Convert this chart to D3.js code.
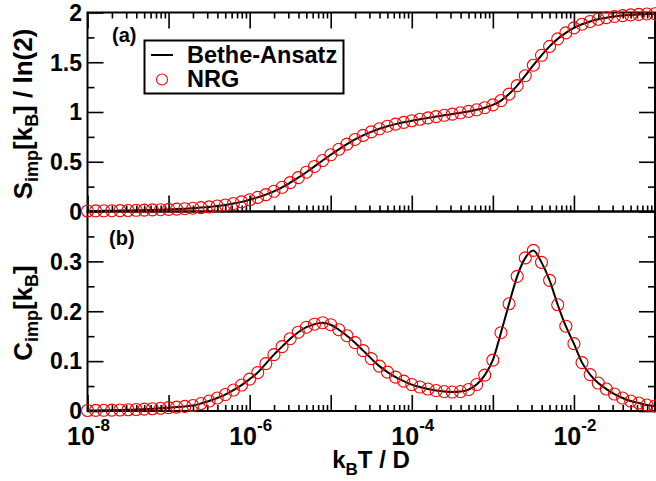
<!DOCTYPE html>
<html>
<head>
<meta charset="utf-8">
<script src="https://cdn.jsdelivr.net/npm/d3@7"></script>
<style>
  html, body { margin: 0; padding: 0; background: #fff; }
  svg { display: block; }
  text { font-family: "Liberation Sans", Arial, Helvetica, sans-serif; font-weight: bold; fill: #000; }
</style>
</head>
<body>
<svg id="chart" width="656" height="481"></svg>
<script>
// ---- data ----
const logT = [
  -8.0,-7.9,-7.8,-7.7,-7.6,-7.5,-7.4,-7.3,-7.2,-7.1,
  -7.0,-6.9,-6.8,-6.7,-6.6,-6.5,-6.4,-6.3,-6.2,-6.1,
  -6.0,-5.9,-5.8,-5.7,-5.6,-5.5,-5.4,-5.3,-5.2,-5.1,
  -5.0,-4.9,-4.8,-4.7,-4.6,-4.5,-4.4,-4.3,-4.2,-4.1,
  -4.0,-3.9,-3.8,-3.7,-3.6,-3.5,-3.4,-3.3,-3.2,-3.1,
  -3.0,-2.9,-2.8,-2.7,-2.6,-2.5,-2.4,-2.3,-2.2,-2.1,
  -2.0,-1.9,-1.8,-1.7,-1.6,-1.5,-1.4,-1.3,-1.2,-1.1,
  -1.0
];
const entropy = [
  0.005,0.006,0.007,0.008,0.009,0.010,0.012,0.014,0.016,0.018,
  0.021,0.024,0.028,0.033,0.039,0.046,0.055,0.066,0.080,0.097,
  0.118,0.142,0.170,0.203,0.243,0.290,0.340,0.395,0.453,0.512,
  0.570,0.625,0.677,0.724,0.765,0.800,0.831,0.857,0.878,0.896,
  0.912,0.927,0.941,0.954,0.967,0.979,0.992,1.006,1.022,1.043,
  1.072,1.115,1.180,1.265,1.365,1.470,1.570,1.660,1.735,1.795,
  1.845,1.882,1.910,1.932,1.948,1.960,1.969,1.976,1.981,1.985,
  1.988
];
const heat = [
  0.001,0.0012,0.0014,0.0017,0.002,0.0025,0.003,0.0037,0.0045,0.0055,
  0.0067,0.0078,0.0092,0.011,0.015,0.020,0.026,0.033,0.042,0.052,
  0.064,0.077,0.095,0.113,0.129,0.145,0.158,0.168,0.174,0.177,
  0.173,0.163,0.151,0.137,0.121,0.105,0.090,0.078,0.068,0.060,
  0.053,0.048,0.044,0.041,0.039,0.038,0.039,0.043,0.053,0.072,
  0.102,0.157,0.215,0.270,0.307,0.322,0.298,0.262,0.213,0.170,
  0.135,0.097,0.073,0.056,0.044,0.034,0.026,0.020,0.016,0.012,
  0.010
];
const xLabelExponents = [-8, -6, -4, -2];
const sTicks = [0, 0.5, 1, 1.5, 2];
const sTickLabels = ["0", "0.5", "1", "1.5", "2"];
const sMinor = [0.25, 0.75, 1.25, 1.75];
const cTicks = [0, 0.1, 0.2, 0.3];
const cTickLabels = ["0", "0.1", "0.2", "0.3"];
const cMinor = [0.05, 0.15, 0.25, 0.35];
const legendLabels = ["Bethe-Ansatz", "NRG"];
const panelLabels = ["(a)", "(b)"];

// ---- layout ----
const xL = 87.5, xR = 655, yT = 12.5, yM = 211.5, yB = 411;
const svg = d3.select("#chart");

const x = d3.scaleLog().domain([1e-8, 1e-1]).range([xL, xR]);
const yS = d3.scaleLinear().domain([0, 2]).range([yM, yT]);
const yC = d3.scaleLinear().domain([0, 0.4]).range([yB, yM]);

const temps = logT.map(u => Math.pow(10, u));
const majorX = d3.range(-8, 0).map(e => Math.pow(10, e));
const minorX = [];
majorX.forEach(m => { for (let k = 2; k <= 9; k++) if (m * k < 1e-1) minorX.push(m * k); });

function xTickAxis(gen, y, values, size) {
  const g = svg.append("g").attr("transform", `translate(0,${y})`)
    .call(gen(x).tickValues(values).tickSizeInner(-size).tickSizeOuter(0).tickFormat(""));
  g.select(".domain").remove();
  g.selectAll("line").attr("stroke", "#000").attr("stroke-width", 1.6);
}
function yTickAxis(gen, xpos, scale, values, size) {
  const g = svg.append("g").attr("transform", `translate(${xpos},0)`)
    .call(gen(scale).tickValues(values).tickSizeInner(-size).tickSizeOuter(0).tickFormat(""));
  g.select(".domain").remove();
  g.selectAll("line").attr("stroke", "#000").attr("stroke-width", 1.6);
}

// top panel x ticks (top edge down, bottom edge up)
xTickAxis(d3.axisTop, yT, majorX, 16);
xTickAxis(d3.axisTop, yT, minorX, 6);
xTickAxis(d3.axisBottom, yM, majorX, 16);
xTickAxis(d3.axisBottom, yM, minorX, 6);
// bottom panel x ticks
xTickAxis(d3.axisBottom, yB, majorX, 16);
xTickAxis(d3.axisBottom, yB, minorX, 6);

// y ticks both sides
yTickAxis(d3.axisLeft, xL, yS, sTicks, 16);
yTickAxis(d3.axisLeft, xL, yS, sMinor, 7);
yTickAxis(d3.axisRight, xR, yS, sTicks, 16);
yTickAxis(d3.axisRight, xR, yS, sMinor, 7);
yTickAxis(d3.axisLeft, xL, yC, cTicks, 16);
yTickAxis(d3.axisLeft, xL, yC, cMinor, 7);
yTickAxis(d3.axisRight, xR, yC, cTicks, 16);
yTickAxis(d3.axisRight, xR, yC, cMinor, 7);

// frames
svg.append("rect").attr("x", xL).attr("y", yT).attr("width", xR - xL).attr("height", yM - yT)
  .attr("fill", "none").attr("stroke", "#000").attr("stroke-width", 2);
svg.append("rect").attr("x", xL).attr("y", yM).attr("width", xR - xL).attr("height", yB - yM)
  .attr("fill", "none").attr("stroke", "#000").attr("stroke-width", 2);

// y tick labels
function yLabels(scale, vals, labels) {
  svg.append("g").selectAll("text").data(vals).join("text")
    .attr("x", 82).attr("y", d => scale(d)).attr("dy", "0.36em")
    .attr("text-anchor", "end").attr("font-size", 23)
    .text((d, i) => labels[i]);
}
yLabels(yS, sTicks, sTickLabels);
yLabels(yC, cTicks, cTickLabels);

// x tick labels (10^n)
const xl = svg.append("g").selectAll("text").data(xLabelExponents).join("text")
  .attr("x", d => x(Math.pow(10, d)) + 1).attr("y", 445)
  .attr("text-anchor", "middle").attr("font-size", 25);
xl.append("tspan").text("10");
xl.append("tspan").attr("dy", -14).attr("font-size", 17).text(d => String(d));

// axis titles
const xt = svg.append("text").attr("x", 371).attr("y", 468)
  .attr("text-anchor", "middle").attr("font-size", 24);
xt.append("tspan").text("k");
xt.append("tspan").attr("dy", 7).attr("font-size", 17).text("B");
xt.append("tspan").attr("dy", -7).text("T / D");

const yt1 = svg.append("text").attr("transform", "translate(32,114) rotate(-90)")
  .attr("text-anchor", "middle").attr("font-size", 26);
yt1.append("tspan").text("S");
yt1.append("tspan").attr("dy", 6).attr("font-size", 18).text("imp");
yt1.append("tspan").attr("dy", -6).text("[k");
yt1.append("tspan").attr("dy", 6).attr("font-size", 18).text("B");
yt1.append("tspan").attr("dy", -6).text("] / ln(2)");

const yt2 = svg.append("text").attr("transform", "translate(32,313) rotate(-90)")
  .attr("text-anchor", "middle").attr("font-size", 26);
yt2.append("tspan").text("C");
yt2.append("tspan").attr("dy", 6).attr("font-size", 18).text("imp");
yt2.append("tspan").attr("dy", -6).text("[k");
yt2.append("tspan").attr("dy", 6).attr("font-size", 18).text("B");
yt2.append("tspan").attr("dy", -6).text("]");

// panel labels
svg.append("text").attr("x", 112).attr("y", 42).attr("font-size", 20).text(panelLabels[0]);
svg.append("text").attr("x", 109).attr("y", 245).attr("font-size", 20).text(panelLabels[1]);

// data: lines + circles
function drawSeries(scale, vals) {
  const pts = temps.map((t, i) => [x(t), scale(vals[i])]);
  svg.append("path").attr("d", d3.line().curve(d3.curveMonotoneX)(pts))
    .attr("fill", "none").attr("stroke", "#000").attr("stroke-width", 2);
  svg.append("g").selectAll("circle").data(pts).join("circle")
    .attr("cx", d => d[0]).attr("cy", d => d[1]).attr("r", 6)
    .attr("fill", "none").attr("stroke", "#ff0000").attr("stroke-width", 1.1);
}
drawSeries(yS, entropy);
drawSeries(yC, heat);

// legend
const lg = svg.append("g");
lg.append("rect").attr("x", 144.5).attr("y", 40.5).attr("width", 199).attr("height", 53)
  .attr("fill", "#fff").attr("stroke", "#000").attr("stroke-width", 2);
lg.append("line").attr("x1", 151).attr("x2", 173).attr("y1", 55).attr("y2", 55)
  .attr("stroke", "#000").attr("stroke-width", 2);
lg.append("circle").attr("cx", 162).attr("cy", 79.5).attr("r", 5.5)
  .attr("fill", "none").attr("stroke", "#ff0000").attr("stroke-width", 1.1);
lg.append("text").attr("x", 187).attr("y", 63).attr("font-size", 23.5).text(legendLabels[0]);
lg.append("text").attr("x", 187).attr("y", 87).attr("font-size", 23.5).text(legendLabels[1]);
</script>
</body>
</html>
